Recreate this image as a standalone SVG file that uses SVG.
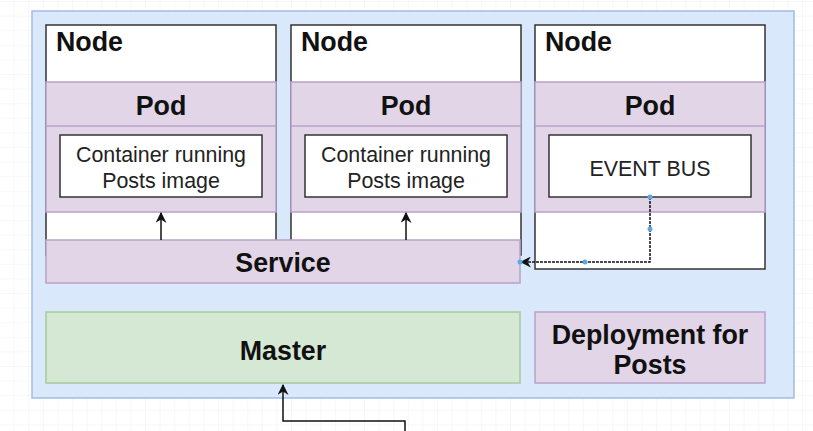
<svg xmlns="http://www.w3.org/2000/svg" width="813" height="431" viewBox="0 0 813 431">
<defs>
<pattern id="grid" width="14.6" height="14.6" patternUnits="userSpaceOnUse" x="0" y="2">
<path d="M14.6 0V14.6H0" fill="none" stroke="#efefef" stroke-width="1"/>
</pattern>
<marker id="ah" viewBox="0 0 10 10" refX="9" refY="5" markerWidth="11" markerHeight="11" markerUnits="userSpaceOnUse" orient="auto">
<path d="M0 0L10 5L0 10L3 5Z" fill="#111"/>
</marker>
</defs>
<style>
.node{fill:#fff;stroke:#333;stroke-width:1.5}
.pod{fill:#e1d5e7;stroke:#b8a2c9;stroke-width:1.5}
.box{fill:#fff;stroke:#333;stroke-width:1.5}
.h{font-family:"Liberation Sans",Arial,sans-serif;font-weight:bold;font-size:26.8px;fill:#111}
.t{font-family:"Liberation Sans",Arial,sans-serif;font-size:21.4px;fill:#222;text-anchor:middle}
.c{text-anchor:middle}
.ln{fill:none;stroke:#111;stroke-width:1.5}
.dot{fill:#5aa9e6}
</style>
<rect width="813" height="431" fill="#fff"/>
<rect width="813" height="431" fill="url(#grid)"/>
<g id="cluster">
<rect x="32" y="11" width="762" height="387" fill="#dae8fc" stroke="#a3bde3" stroke-width="1.5"/>
</g>
<g id="node1">
<rect class="node" x="46" y="25" width="230" height="230"/>
<rect class="pod" x="46" y="82" width="230" height="130"/>
<line x1="46" y1="126" x2="276" y2="126" stroke="#b8a2c9" stroke-width="1.5"/>
<text class="h" x="56" y="51">Node</text>
<text class="h c" x="161" y="115">Pod</text>
<rect class="box" x="60" y="135" width="202" height="62"/>
<text class="t" x="161" y="162">Container running</text>
<text class="t" x="161" y="188">Posts image</text>
</g>
<g id="node2">
<rect class="node" x="291" y="25" width="230" height="230"/>
<rect class="pod" x="291" y="82" width="230" height="130"/>
<line x1="291" y1="126" x2="521" y2="126" stroke="#b8a2c9" stroke-width="1.5"/>
<text class="h" x="301" y="51">Node</text>
<text class="h c" x="406" y="115">Pod</text>
<rect class="box" x="305" y="135" width="202" height="62"/>
<text class="t" x="406" y="162">Container running</text>
<text class="t" x="406" y="188">Posts image</text>
</g>
<g id="node3">
<rect class="node" x="535" y="25" width="230" height="244"/>
<rect class="pod" x="535" y="82" width="230" height="130"/>
<line x1="535" y1="126" x2="765" y2="126" stroke="#b8a2c9" stroke-width="1.5"/>
<text class="h" x="545" y="51">Node</text>
<text class="h c" x="650" y="115">Pod</text>
<rect class="box" x="549" y="135" width="202" height="62"/>
<text class="t" x="650" y="176">EVENT BUS</text>
</g>
<g id="service">
<rect class="pod" x="46" y="240" width="474" height="43"/>
<text class="h c" x="283" y="272">Service</text>
</g>
<g id="master">
<rect x="46" y="312" width="474" height="71" fill="#d5e8d4" stroke="#a8c99a" stroke-width="1.5"/>
<text class="h c" x="283" y="360">Master</text>
</g>
<g id="deployment">
<rect class="pod" x="535" y="312" width="230" height="71"/>
<text class="h c" x="650" y="344">Deployment for</text>
<text class="h c" x="650" y="374">Posts</text>
</g>
<g id="connectors">
<line class="ln" x1="161" y1="240" x2="161" y2="213" marker-end="url(#ah)"/>
<line class="ln" x1="406" y1="240" x2="406" y2="213" marker-end="url(#ah)"/>
<path class="ln" d="M650 197V262H521" stroke-dasharray="3 1" marker-end="url(#ah)"/>
<circle class="dot" cx="650" cy="197" r="2.5"/>
<circle class="dot" cx="650" cy="229" r="2.5"/>
<circle class="dot" cx="585" cy="262" r="2.5"/>
<circle class="dot" cx="520" cy="262" r="2.5"/>
<path class="ln" d="M405 431V421H283V385" marker-end="url(#ah)"/>
</g>
</svg>
